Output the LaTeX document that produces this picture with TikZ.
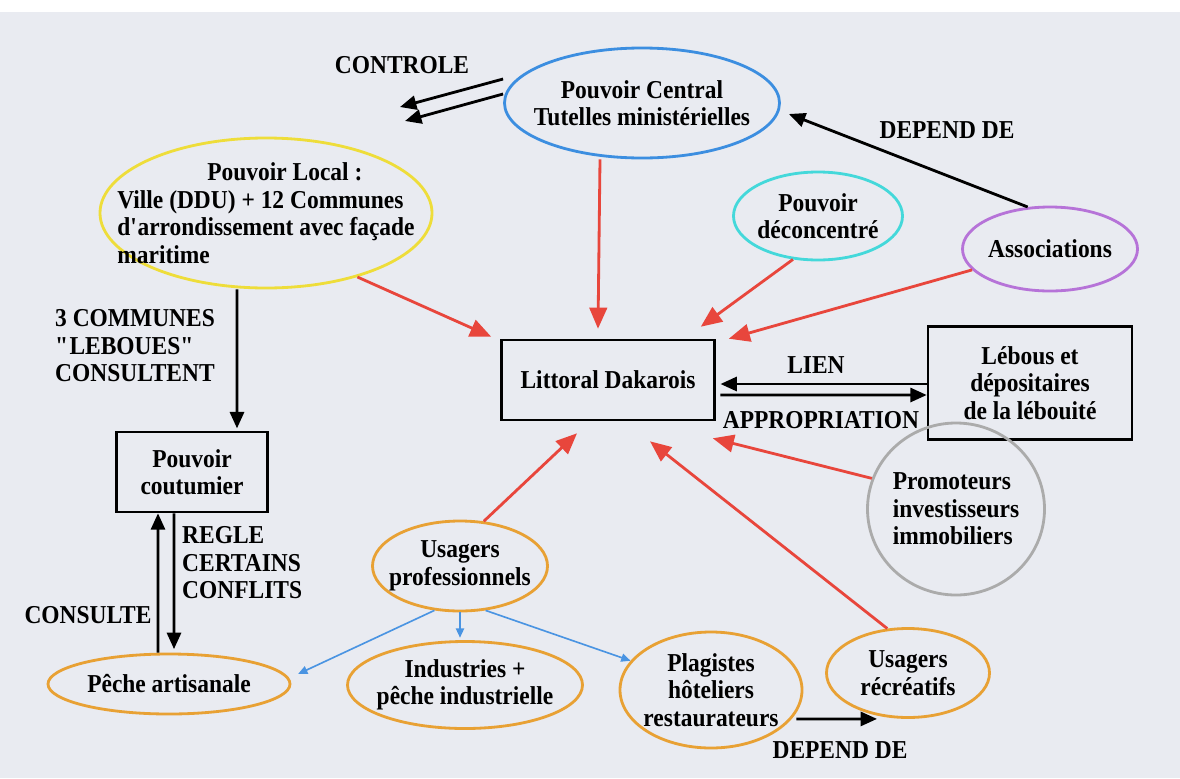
\documentclass[tikz,border=0pt]{standalone}
\usepackage{fontspec}
\setmainfont{Liberation Serif}[FakeStretch=0.91]
\usetikzlibrary{shapes.geometric,arrows.meta,positioning}

\definecolor{paper}{HTML}{E9EBF1}
\definecolor{actyellow}{HTML}{EEDD3A}
\definecolor{actblue}{HTML}{3C8EE0}
\definecolor{actcyan}{HTML}{44D8DA}
\definecolor{actpurple}{HTML}{B673D8}
\definecolor{actorange}{HTML}{E8A134}
\definecolor{actgrey}{HTML}{ABABAB}
\definecolor{redarr}{HTML}{E8463C}
\definecolor{bluearr}{HTML}{4A94E2}

\newcommand{\lblfont}{\fontsize{22}{23.5}\selectfont\bfseries}

\tikzset{
	actor/.style={ellipse, draw, line width=2.4pt, inner sep=0pt},
	txt/.style={inner sep=0pt, align=center, font=\lblfont},
	box/.style={rectangle, draw=black, line width=2.2pt, inner sep=0pt, align=center, font=\lblfont},
	tag/.style={inner sep=0pt, font=\lblfont},
	redarrow/.style={draw=redarr, line width=2.4pt, -{Triangle[length=18pt,width=15pt]}},
	blackarrow/.style={draw=black, line width=2.4pt, -{Triangle[length=14pt,width=12pt]}},
	bluearrow/.style={draw=bluearr, line width=1.4pt, -{Triangle[length=8pt,width=7pt]}}
}

\begin{document}
\begin{tikzpicture}[x=0.03cm, y=-0.03cm]
	\useasboundingbox (0,0) rectangle (1180,778);
	\fill[white] (0,0) rectangle (1180,12);
	\fill[paper] (0,12) rectangle (1180,778);
	
	% acteurs
	\node[actor, draw=actblue, minimum width=8.25cm, minimum height=3.3cm, label={[txt]center:{Pouvoir Central\\Tutelles ministérielles}}] (central) at (642,103) {};
	\node[actor, draw=actyellow, minimum width=9.96cm, minimum height=4.5cm, label={[txt, align=left]center:{\hspace*{2.7cm}Pouvoir Local :\\Ville (DDU) + 12 Communes\\d\textquotesingle arrondissement avec façade\\maritime}}] (local) at (266,213) {};
	\node[actor, draw=actcyan, minimum width=5.07cm, minimum height=2.64cm, label={[txt]center:{Pouvoir\\déconcentré}}] (deconc) at (818,216) {};
	\node[actor, draw=actpurple, minimum width=5.25cm, minimum height=2.52cm, label={[txt]center:Associations}] (assoc) at (1050,249) {};
	\node[box, minimum width=6.39cm, minimum height=2.4cm] (littoral) at (608,380) {Littoral Dakarois};
	\node[box, minimum width=6.12cm, minimum height=3.39cm] (lebous) at (1030,383) {Lébous et\\dépositaires\\de la lébouité};
	\node[box, minimum width=4.53cm, minimum height=2.4cm] (coutumier) at (192,472) {Pouvoir\\coutumier};
	\node[actor, draw=actgrey, minimum width=5.31cm, minimum height=5.16cm, label={[txt, align=left]center:{Promoteurs\\investisseurs\\immobiliers}}] (promo) at (956,509) {};
	\node[actor, draw=actorange, minimum width=5.25cm, minimum height=2.7cm, label={[txt]center:{Usagers\\professionnels}}] (prof) at (460,566) {};
	\node[actor, draw=actorange, minimum width=7.26cm, minimum height=1.8cm, label={[txt]center:Pêche artisanale}] (peche) at (169,684) {};
	\node[actor, draw=actorange, minimum width=7.05cm, minimum height=2.61cm, label={[txt]center:{Industries +\\pêche industrielle}}] (indus) at (465,685) {};
	\node[actor, draw=actorange, minimum width=5.46cm, minimum height=3.48cm, label={[txt]center:{Plagistes\\hôteliers\\restaurateurs}}] (plag) at (711,690) {};
	\node[actor, draw=actorange, minimum width=4.89cm, minimum height=2.67cm, label={[txt]center:{Usagers\\récréatifs}}] (recre) at (908,673) {};
	
	% etiquettes
	\node[tag] (lblControle) at (402,65) {CONTROLE};
	\node[tag] (lblDepend) at (947,130) {DEPEND DE};
	\node[tag, anchor=west, align=left] (lblCommunes) at (55,346) {3 COMMUNES\\\textquotedbl LEBOUES\textquotedbl\\CONSULTENT};
	\node[tag, anchor=west, align=left] (lblRegle) at (182,563) {REGLE\\CERTAINS\\CONFLITS};
	\node[tag] (lblConsulte) at (88,615) {CONSULTE};
	\node[tag] (lblLien) at (816,365) {LIEN};
	\node[tag] (lblAppro) at (821,420) {APPROPRIATION};
	\node[tag] (lblDependB) at (840,750) {DEPEND DE};
	
	% liens de controle et de dependance
	\coordinate (ctrlA) at (400,107);
	\coordinate (ctrlB) at (405,121);
	\draw[blackarrow] ([yshift=0.72cm]central.west) -- (ctrlA);
	\draw[blackarrow] ([yshift=0.27cm]central.west) -- (ctrlB);
	\draw[blackarrow] (assoc.118) -- ([xshift=0.24cm,yshift=-0.33cm]central.east);
	\draw[blackarrow, shorten >=2pt] ([xshift=-0.87cm]local.south) -- ([xshift=1.35cm]coutumier.north);
	\draw[blackarrow] ([xshift=-0.33cm]peche.north) -- ([xshift=-1.02cm]coutumier.south);
	\draw[blackarrow, shorten >=3pt] ([xshift=-0.54cm]coutumier.south) -- ([xshift=0.15cm]peche.north);
	\draw[blackarrow, shorten >=4pt] ([yshift=-0.03cm]lebous.west) -- ([yshift=-0.12cm]littoral.east);
	\draw[blackarrow, shorten <=4pt] ([yshift=-0.45cm]littoral.east) -- ([yshift=-0.36cm]lebous.west);
	\draw[blackarrow] ([xshift=-0.21cm,yshift=-0.87cm]plag.east) -- ([xshift=-0.93cm]recre.south);
	
	% influences sur le littoral
	\draw[redarrow] (local.-35) -- ([xshift=-0.27cm,yshift=0.06cm]littoral.north west);
	\draw[redarrow] ([xshift=-1.26cm]central.south) -- ([xshift=-0.3cm,yshift=0.3cm]littoral.north);
	\draw[redarrow] (deconc.240) -- ([xshift=-0.45cm,yshift=0.36cm]littoral.north east);
	\draw[redarrow] (assoc.195) -- ([xshift=0.39cm]littoral.north east);
	\draw[redarrow] (prof.62) -- ([xshift=-0.93cm,yshift=-0.36cm]littoral.south);
	\draw[redarrow] (recre.115) -- ([xshift=1.26cm,yshift=-0.6cm]littoral.south);
	\draw[redarrow] (promo.160) -- ([xshift=-0.09cm,yshift=-0.51cm]littoral.south east);
	
	% usagers professionnels
	\draw[bluearrow] (prof.240) -- ([xshift=0.2cm,yshift=0.3cm]peche.east);
	\draw[bluearrow, shorten >=2pt] (prof.south) -- (prof.south |- indus.north);
	\draw[bluearrow] (prof.-60) -- (plag.160);
\end{tikzpicture}
\end{document}
